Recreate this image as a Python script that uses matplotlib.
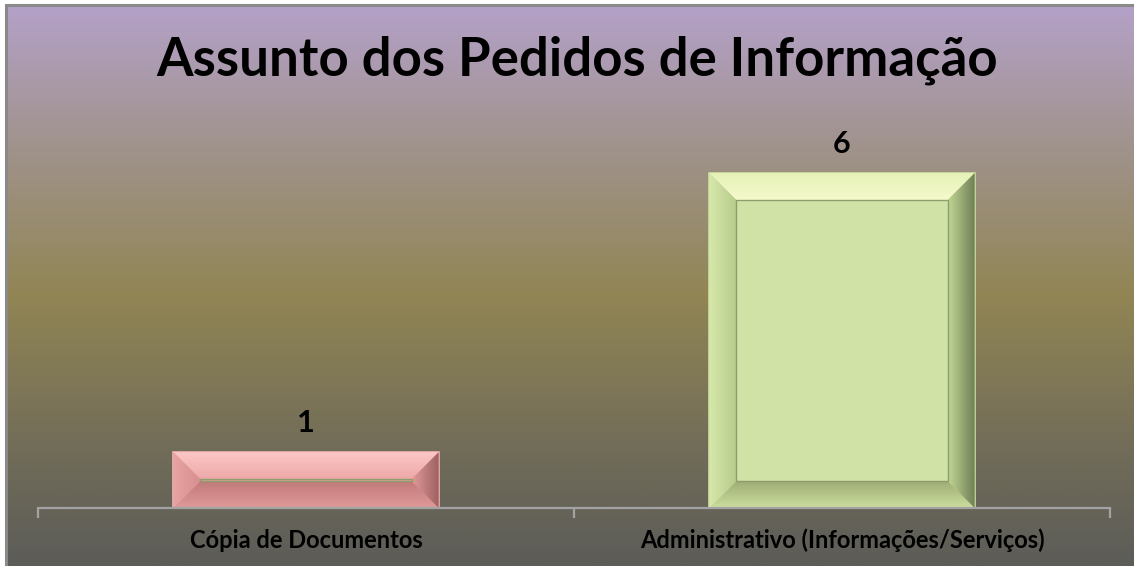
import numpy as np
import matplotlib
matplotlib.use("Agg")
import matplotlib.pyplot as plt
from matplotlib.patches import Polygon, Rectangle
from matplotlib.colors import LinearSegmentedColormap

# data
categories = ["Cópia de Documentos", "Administrativo (Informações/Serviços)"]
values = [1, 6]
title = "Assunto dos Pedidos de Informação"

# bar colours: face, top, bottom(inner->outer), left(outer->inner), right(inner->outer)
pink = {"face": (0.90, 0.62, 0.62), "top": ((0.93, 0.66, 0.66), (0.99, 0.78, 0.78)),
        "bottom": ((0.76, 0.48, 0.48), (0.88, 0.60, 0.60)),
        "left": ((0.91, 0.64, 0.64), (0.85, 0.56, 0.56)),
        "right": ((0.62, 0.38, 0.38), (0.88, 0.60, 0.60)), "edge": (0.95, 0.70, 0.70)}
green = {"face": (0.815, 0.885, 0.650), "top": ((0.96, 0.98, 0.80), (0.90, 0.95, 0.72)),
         "bottom": ((0.62, 0.68, 0.46), (0.80, 0.87, 0.62)),
         "left": ((0.84, 0.91, 0.67), (0.72, 0.80, 0.55)),
         "right": ((0.44, 0.50, 0.34), (0.76, 0.84, 0.58)), "edge": (0.80, 0.88, 0.62)}
bar_styles = [pink, green]

W, H = 1134, 566
fig = plt.figure(figsize=(W / 100, H / 100), dpi=100)
fig.patch.set_facecolor("white")

# background gradient
bg = fig.add_axes([7 / W, 0, 1 - 7 / W, 1 - 6 / H], zorder=-1)
bg_cmap = LinearSegmentedColormap.from_list("bg", [
    (0.0, (180/255, 161/255, 200/255)),
    (0.25, (160/255, 147/255, 140/255)),
    (0.52, (145/255, 133/255, 84/255)),
    (0.75, (118/255, 112/255, 88/255)),
    (1.0, (92/255, 92/255, 88/255))])
bg.imshow(np.linspace(0, 1, 256)[:, None], cmap=bg_cmap, aspect="auto",
          extent=[0, 1, 1, 0], interpolation="bilinear")
bg.set_xlim(0, 1)
bg.set_ylim(1, 0)
bg.axis("off")
fig.add_artist(Rectangle((6 / W, -0.1), 1.2, 1 - 5 / H + 0.1, transform=fig.transFigure,
                         facecolor="none", edgecolor="#8a8a8a", linewidth=2.2))

# main axes
ax_bottom, ax_top = 508, 90
ax = fig.add_axes([38 / W, (H - ax_bottom) / H, 1072 / W, (ax_bottom - ax_top) / H])
ax.set_facecolor("none")
ymax = 6 * (ax_bottom - ax_top) / 335
ax.set_xlim(-0.5, 1.5)
ax.set_ylim(0, ymax)

bar_w = 0.495
px_x = 536.0            # pixels per x unit
px_y = 335.0 / 6        # pixels per y unit
bev = 27                # bevel size in pixels
dx = bev / px_x
dy = bev / px_y


def grad_poly(verts, c0, c1, direction, z=3):
    poly = Polygon(verts, closed=True, facecolor="none", edgecolor="none")
    ax.add_patch(poly)
    xs = [v[0] for v in verts]
    ys = [v[1] for v in verts]
    t = np.linspace(0, 1, 64)
    c0 = np.array(c0)
    c1 = np.array(c1)
    cols = c0[None, :] * (1 - t[:, None]) + c1[None, :] * t[:, None]
    if direction == "v":
        img = cols[:, None, :]
    else:
        img = cols[None, :, :]
    im = ax.imshow(img, extent=[min(xs), max(xs), min(ys), max(ys)], origin="lower",
                   aspect="auto", interpolation="bilinear", zorder=z)
    im.set_clip_path(poly)


for i, (v, st) in enumerate(zip(values, bar_styles)):
    x0, x1 = i - bar_w / 2, i + bar_w / 2
    y0, y1 = 0, v
    ix0, ix1 = x0 + dx, x1 - dx
    if v < 2 * dy:
        iy0 = iy1 = v / 2
    else:
        iy0, iy1 = dy, v - dy
    ax.add_patch(Rectangle((x0, y0), x1 - x0, y1 - y0, facecolor=st["face"],
                           edgecolor=st["edge"], linewidth=1.2, zorder=2))
    # top: bottom colour -> top colour
    grad_poly([(x0, y1), (x1, y1), (ix1, iy1), (ix0, iy1)], st["top"][0], st["top"][1], "v")
    # bottom: outer (low) -> inner (high)
    grad_poly([(x0, y0), (x1, y0), (ix1, iy0), (ix0, iy0)], st["bottom"][1], st["bottom"][0], "v")
    grad_poly([(x0, y0), (x0, y1), (ix0, iy1), (ix0, iy0)], st["left"][0], st["left"][1], "h")
    grad_poly([(x1, y0), (x1, y1), (ix1, iy1), (ix1, iy0)], st["right"][1], st["right"][0], "h")
    if iy1 > iy0:
        ax.add_patch(Rectangle((ix0, iy0), ix1 - ix0, iy1 - iy0, facecolor=st["face"],
                               edgecolor=(0.55, 0.62, 0.42), linewidth=1.0, zorder=4))
    # value label, baseline ~20px above the bar
    ax.annotate(str(v), (i, v), xytext=(0, 14.5), textcoords="offset points",
                ha="center", va="baseline", fontsize=22, fontweight="bold",
                fontfamily="Lato", color="black", zorder=5)
    # category label, baseline ~40px below the axis
    ax.annotate(categories[i], (i, 0), xycoords=("data", "axes fraction"),
                xytext=(0, -29), textcoords="offset points", ha="center", va="baseline",
                fontsize=17, fontweight="bold", fontfamily="Lato", color="black",
                annotation_clip=False)

ax.set_xlim(-0.5, 1.5)
ax.set_ylim(0, ymax)

for s in ["top", "left", "right"]:
    ax.spines[s].set_visible(False)
ax.spines["bottom"].set_color("#a3a3a3")
ax.spines["bottom"].set_linewidth(1.6)
ax.spines["bottom"].set_zorder(6)
ax.set_yticks([])
ax.set_xticks([])
ax.set_xticks([-0.5, 0.5, 1.5], minor=True)
ax.tick_params(axis="x", which="minor", length=7, width=1.6, color="#a3a3a3")

fig.text(577 / W, 1 - 75 / H, title, ha="center", va="baseline", fontsize=38,
         fontweight="bold", fontfamily="Lato", color="black")

fig.savefig("out.png", dpi=100)
